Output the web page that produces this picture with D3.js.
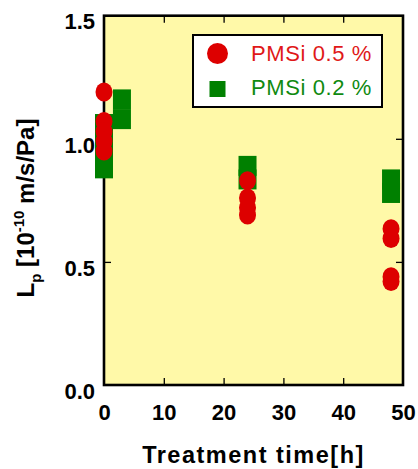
<!DOCTYPE html>
<html>
<head>
<meta charset="utf-8">
<script src="https://cdn.jsdelivr.net/npm/d3@7"></script>
<style>
body { margin: 0; background: #fff; }
svg { display: block; font-family: "Liberation Sans", Arial, sans-serif; }
</style>
</head>
<body>
<div id="chart"></div>
<script>
/* data */
var series = ["PMSi 0.5 %", "PMSi 0.2 %"];
var timeRed = [0, 0, 0, 0, 0, 24, 24, 24, 24, 48, 48, 48, 48];
var lpRed = [1.19, 1.07, 1.03, 0.99, 0.95, 0.83, 0.76, 0.72, 0.69, 0.635, 0.595, 0.44, 0.42];
var timeGreen = [0, 0, 0, 0, 3, 3, 24, 24, 48, 48];
var lpGreen = [1.06, 1.0, 0.94, 0.88, 1.16, 1.08, 0.89, 0.835, 0.835, 0.78];
var xTicks = [0, 10, 20, 30, 40, 50];
var yTicks = [0, 0.5, 1.0, 1.5];

var width = 418, height = 469;
var margin = {top: 15.7, right: 15, bottom: 84, left: 104};

var svg = d3.select("#chart")
	.append("svg")
	.attr("width", width)
	.attr("height", height);

var x = d3.scaleLinear().domain([0, 50]).range([margin.left, width - margin.right]);
var y = d3.scaleLinear().domain([0, 1.5]).range([height - margin.bottom, margin.top]);

var red = "#dd0000", green = "#008000";

/* plot background */
svg.append("rect")
	.attr("x", x(0)).attr("y", y(1.5))
	.attr("width", x(50) - x(0)).attr("height", y(0) - y(1.5))
	.style("fill", "#fff9a8")
	.style("stroke", "#000")
	.style("stroke-width", 2.6);

/* inward ticks on all four sides */
var inner = [10, 20, 30, 40];
svg.append("g").attr("transform", "translate(0," + y(0) + ")")
	.call(d3.axisTop(x).tickValues(inner).tickSize(7).tickFormat(""));
svg.append("g").attr("transform", "translate(0," + y(1.5) + ")")
	.call(d3.axisBottom(x).tickValues(inner).tickSize(7).tickFormat(""));
svg.append("g").attr("transform", "translate(" + x(0) + ",0)")
	.call(d3.axisRight(y).tickValues([0.5, 1.0]).tickSize(7).tickFormat(""));
svg.append("g").attr("transform", "translate(" + x(50) + ",0)")
	.call(d3.axisLeft(y).tickValues([0.5, 1.0]).tickSize(7).tickFormat(""));
svg.selectAll(".domain").remove();
svg.selectAll(".tick line").style("stroke", "#000").style("stroke-width", 1.3);

/* tick labels */
var xAx = svg.append("g").attr("transform", "translate(0," + y(0) + ")")
	.call(d3.axisBottom(x).tickValues(xTicks).tickSize(0).tickPadding(19).tickFormat(d3.format("d")));
var yAx = svg.append("g").attr("transform", "translate(" + x(0) + ",0)")
	.call(d3.axisLeft(y).tickValues(yTicks).tickSize(0).tickPadding(9).tickFormat(d3.format(".1f")));
xAx.select(".domain").remove();
yAx.select(".domain").remove();
svg.selectAll(".tick text")
	.style("font-size", "22px")
	.style("font-weight", "bold")
	.style("fill", "#000");
yAx.selectAll(".tick text").attr("dy", "0.6em");
xAx.selectAll(".tick text").attr("dy", "0.71em");

/* markers: squares first, circles on top */
svg.selectAll(".sq")
	.data(d3.range(lpGreen.length))
	.enter()
	.append("rect")
	.attr("class", "sq")
	.attr("x", function(i){ return x(timeGreen[i]) - 9; })
	.attr("y", function(i){ return y(lpGreen[i]) - 10; })
	.attr("width", 18)
	.attr("height", 20)
	.style("fill", green);

svg.selectAll(".dot")
	.data(d3.range(lpRed.length))
	.enter()
	.append("ellipse")
	.attr("class", "dot")
	.attr("cx", function(i){ return x(timeRed[i]); })
	.attr("cy", function(i){ return y(lpRed[i]); })
	.attr("rx", 8.5)
	.attr("ry", 9.5)
	.style("fill", red);

/* legend */
var lg = svg.append("g");
lg.append("rect")
	.attr("x", 193).attr("y", 35)
	.attr("width", 189).attr("height", 72)
	.style("fill", "#fff")
	.style("stroke", "#000")
	.style("stroke-width", 2);
lg.append("circle").attr("cx", 217.5).attr("cy", 53.5).attr("r", 10.5).style("fill", red);
lg.append("rect").attr("x", 209.5).attr("y", 81).attr("width", 16).attr("height", 16).style("fill", green);
lg.selectAll(".lgtext")
	.data(series)
	.enter()
	.append("text")
	.attr("class", "lgtext")
	.attr("x", 251)
	.attr("y", function(d, i){ return 61 + i * 34; })
	.style("font-size", "22px")
	.style("letter-spacing", "0.6px")
	.style("fill", function(d, i){ return i === 0 ? "#e01818" : "#108a10"; })
	.text(function(d){ return d; });

/* axis titles */
svg.append("text")
	.attr("x", (x(0) + x(50)) / 2)
	.attr("y", 463)
	.attr("text-anchor", "middle")
	.style("font-size", "23.5px")
	.style("font-weight", "bold")
	.style("letter-spacing", "1.5px")
	.text("Treatment time[h]");

var yt = svg.append("text")
	.attr("transform", "translate(34,208) rotate(-90)")
	.attr("text-anchor", "middle")
	.style("font-size", "24px")
	.style("font-weight", "bold");
yt.append("tspan").text("L");
yt.append("tspan").attr("dy", 7).style("font-size", "15px").text("p");
yt.append("tspan").attr("dy", -7).text(" [10");
yt.append("tspan").attr("dy", -10).style("font-size", "15px").text("-10");
yt.append("tspan").attr("dy", 10).text(" m/s/Pa]");
</script>
</body>
</html>
